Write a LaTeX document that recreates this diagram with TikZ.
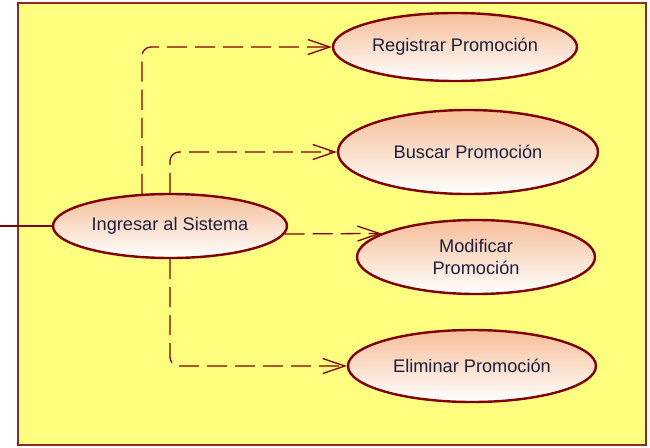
\documentclass[tikz,border=0pt]{standalone}
\usepackage{fontspec}
\setmainfont{Liberation Sans}
\usetikzlibrary{arrows.meta,shapes.geometric}
\definecolor{CaseRed}{HTML}{800000}
\definecolor{FrameRed}{HTML}{8E2A2A}
\definecolor{FrameYellow}{HTML}{FFFF80}
\definecolor{CasePeach}{HTML}{F6BE98}
\definecolor{CaseText}{HTML}{1E1E3C}

\begin{document}
\begin{tikzpicture}[
    x=1pt, y=-1pt,
    usecase/.style={
        ellipse,
        draw=CaseRed,
        line width=2.4pt,
        top color=CasePeach,
        bottom color=white,
        inner sep=0pt,
        align=center,
        text=CaseText,
        font=\fontsize{18.2}{22}\selectfont,
    },
    include/.style={
        -{Straight Barb[length=22pt,width=15pt]},
        draw=CaseRed,
        line width=1.3pt,
        dash pattern=on 20pt off 8pt,
        rounded corners=9pt,
    },
]
\useasboundingbox (0,0) rectangle (650,447);

% system boundary
\draw[FrameRed,line width=1.1pt,fill=FrameYellow] (18,3) rectangle (646,445);

\node[usecase,minimum width=234pt,minimum height=64pt] (ingresar) at (170,226) {Ingresar al Sistema};
\node[usecase,minimum width=244pt,minimum height=68pt] (registrar) at (455,47) {Registrar Promoción};
\node[usecase,minimum width=260pt,minimum height=84pt] (buscar) at (468,152) {Buscar Promoción};
\node[usecase,minimum width=238pt,minimum height=74pt] (modificar) at (476,257) {Modificar\\Promoción};
\node[usecase,minimum width=248pt,minimum height=72pt] (eliminar) at (472,366) {Eliminar Promoción};

\coordinate (actor) at (0,226);
\draw[CaseRed,line width=1.3pt] (actor) -- (ingresar.west);

\draw[include] (ingresar.131) |- (registrar.west);
\draw[include] (ingresar.north) |- (buscar.west);
\draw[include] (ingresar.-4) -- (modificar.166);
\draw[include] (ingresar.south) |- (eliminar.west);
\end{tikzpicture}
\end{document}
